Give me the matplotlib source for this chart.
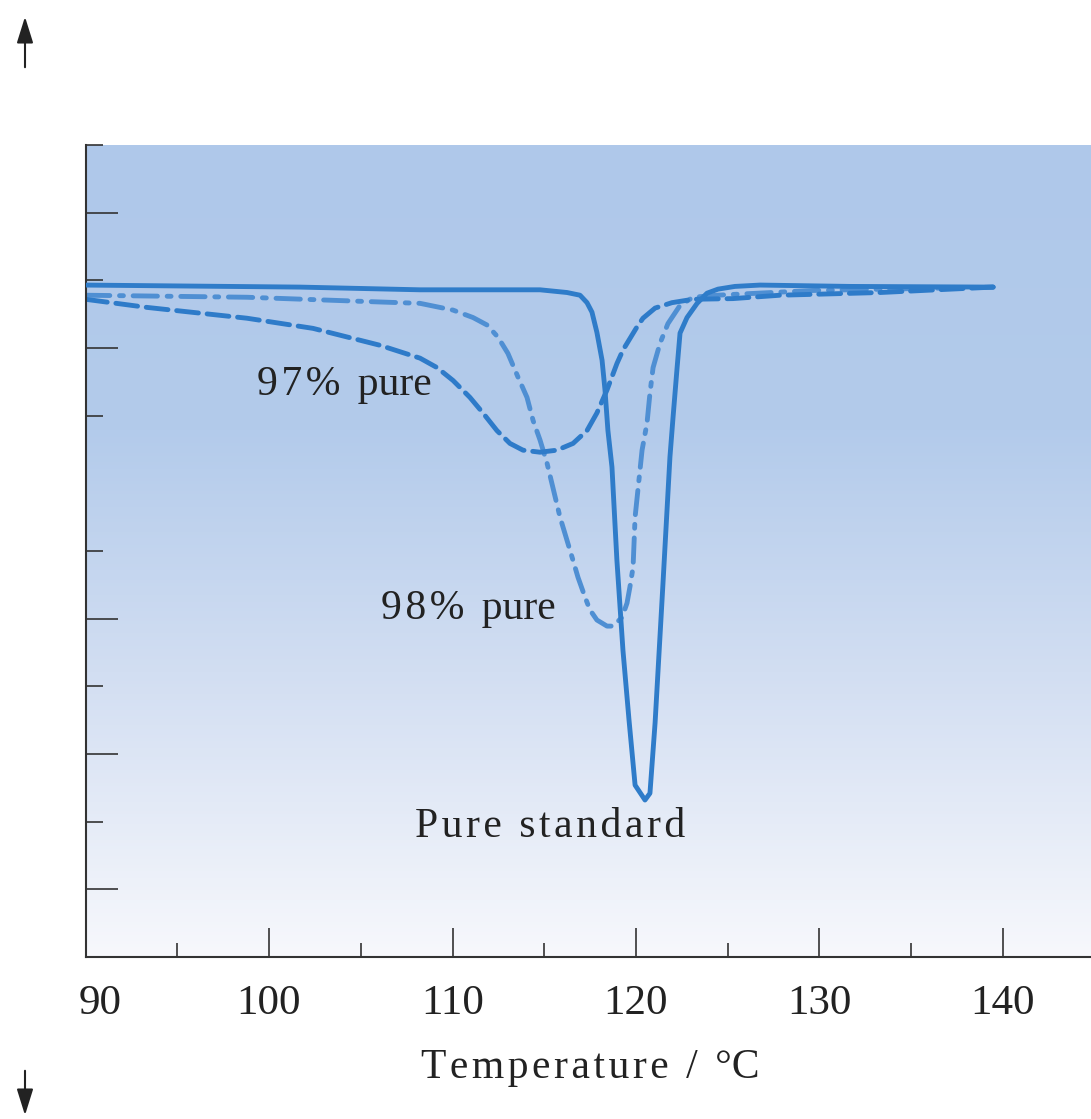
import numpy as np
import matplotlib
matplotlib.use("Agg")
import matplotlib.pyplot as plt
import matplotlib.transforms as mtransforms
from matplotlib.colors import LinearSegmentedColormap
from matplotlib.patches import FancyArrowPatch

# DSC traces, temperature (degC) vs heat flow (arbitrary units, in tick units)
pure_t = [90.0, 101.69, 108.23, 114.77, 116.24, 116.95, 117.33, 117.60, 117.87,
          118.15, 118.31, 118.47, 118.69, 118.96, 119.29, 119.62, 119.95, 120.49,
          120.76, 121.04, 121.47, 121.85, 122.02, 122.24, 122.40, 122.78, 123.33,
          123.87, 124.47, 125.39, 126.76, 131.66, 139.46]
pure_q = [9.93, 9.90, 9.86, 9.86, 9.82, 9.78, 9.67, 9.53, 9.23,
          8.82, 8.38, 7.78, 7.24, 5.86, 4.53, 3.50, 2.54, 2.32,
          2.42, 3.46, 5.52, 7.39, 7.98, 8.71, 9.22, 9.45, 9.66,
          9.81, 9.87, 9.91, 9.93, 9.91, 9.90]

p98_t = [90.0, 98.80, 106.05, 108.23, 110.03, 111.12, 111.88, 112.48, 113.02,
         113.57, 114.06, 114.39, 114.77, 115.15, 115.86, 116.57, 116.84, 117.22,
         117.49, 117.87, 118.42, 118.75, 119.24, 119.51, 119.67, 119.84, 119.95,
         120.33, 120.60, 120.76, 120.93, 121.31, 121.74, 122.40, 123.11, 124.42,
         129.65, 139.46]
p98_q = [9.78, 9.75, 9.68, 9.66, 9.56, 9.45, 9.34, 9.16, 8.92,
         8.57, 8.27, 7.93, 7.64, 7.30, 6.50, 5.86, 5.61, 5.32,
         5.13, 4.98, 4.89, 4.89, 5.02, 5.23, 5.47, 5.76, 6.50,
         7.49, 7.89, 8.33, 8.71, 9.07, 9.36, 9.63, 9.75, 9.78,
         9.85, 9.90]

p97_t = [90.0, 93.35, 98.80, 102.40, 106.05, 108.23, 109.16, 110.03, 110.95,
         111.66, 112.42, 113.13, 113.84, 114.77, 115.69, 116.57, 117.33, 117.87,
         118.42, 118.96, 119.29, 119.67, 120.05, 120.38, 121.04, 121.96, 123.11,
         125.28, 127.85, 133.30, 139.46]
p97_q = [9.72, 9.60, 9.44, 9.29, 9.04, 8.85, 8.71, 8.52, 8.27,
         8.04, 7.78, 7.59, 7.49, 7.46, 7.49, 7.59, 7.78, 8.04,
         8.38, 8.77, 8.97, 9.14, 9.31, 9.44, 9.59, 9.67, 9.72,
         9.73, 9.78, 9.82, 9.90]

x_major = [90, 100, 110, 120, 130, 140]
x_minor = [95, 105, 115, 125, 135]
y_major = [1, 3, 5, 9, 11]
y_minor = [2, 4, 6, 8, 10, 12]

HS = "\u200a"  # hair space, used to mimic the loose letter spacing
GAP = " " + HS * 2


def spaced(word):
    return HS.join(word)


plt.rcParams['font.family'] = ["Liberation Serif", "DejaVu Serif"]

fig = plt.figure(figsize=(10.91, 11.19), dpi=100)
ax = fig.add_axes([85.5 / 1091, 1 - 957 / 1119, 1 - 85.5 / 1091, (957 - 145) / 1119])

xmin, xmax = 90, 90 + (1091 - 85.5) / 18.35
ymin, ymax = 0, 12

# background gradient, blue at top fading to white at the bottom
cmap = LinearSegmentedColormap.from_list(
    "bg", [(0.0, "#f7f8fc"), (0.35, "#d2def2"), (0.65, "#b3cbeb"), (1.0, "#afc8ea")])
grad = np.linspace(0, 1, 256).reshape(-1, 1)
ax.imshow(grad, extent=[xmin, xmax, ymin, ymax], origin="lower", aspect="auto",
          cmap=cmap, zorder=0)

ax.plot(pure_t, pure_q, color="#2f7cc9", lw=3.5, solid_joinstyle="round",
        solid_capstyle="round", zorder=3)
ax.plot(p98_t, p98_q, color="#4f8fd3", lw=3.5, dashes=(5, 2, 0.8, 2),
        dash_capstyle="round", dash_joinstyle="round", zorder=2)
ax.plot(p97_t, p97_q, color="#2e7bc9", lw=3.5, dashes=(4.5, 1.8),
        dash_capstyle="round", dash_joinstyle="round", zorder=2)

txt = dict(fontsize=30, ha="center", va="center", color="#222222")
ax.text(104.1, 8.45, spaced("97%") + GAP + "pure", **txt)
ax.text(110.85, 5.15, spaced("98%") + GAP + "pure", **txt)
ax.text(115.3, 1.92, spaced("Pure") + GAP + spaced("standard"), **txt)

ax.set_xlim(xmin, xmax)
ax.set_ylim(ymin, ymax)
for s in ["top", "right"]:
    ax.spines[s].set_visible(False)
for s in ["left", "bottom"]:
    ax.spines[s].set_color("#333333")
    ax.spines[s].set_linewidth(1.5)

ax.set_xticks(x_major)
ax.set_xticks(x_minor, minor=True)
ax.set_xticklabels([str(v) for v in x_major])
ax.set_yticks(y_major)
ax.set_yticks(y_minor, minor=True)
ax.set_yticklabels([])
ax.tick_params(axis="x", which="major", direction="in", length=21, width=1.2,
               color="#333333", labelsize=31, pad=20, labelcolor="#222222")
ax.tick_params(axis="x", which="minor", direction="in", length=10, width=1.2,
               color="#333333")
ax.tick_params(axis="y", which="major", direction="in", length=23, width=1.2,
               color="#333333")
ax.tick_params(axis="y", which="minor", direction="in", length=12, width=1.2,
               color="#333333")

# the "90" label sits a bit to the right of the axis corner
lab0 = ax.get_xticklabels()[0]
lab0.set_transform(lab0.get_transform() +
                   mtransforms.ScaledTranslation(15 / 100, 0, fig.dpi_scale_trans))

fig.text(590 / 1091, 1 - 1068 / 1119, spaced("Temperature") + GAP + "/" + GAP + "\u00b0C",
         fontsize=30, ha="center", va="center", color="#222222")

# heat flow direction arrows
for y0, y1 in [(70, 14), (1068, 1118)]:
    fig.patches.append(FancyArrowPatch(
        (25 / 1091, 1 - y0 / 1119), (25 / 1091, 1 - y1 / 1119),
        transform=fig.transFigure,
        arrowstyle="-|>,head_length=16,head_width=5", lw=1.5, color="#222222",
        mutation_scale=1))

fig.savefig("out.png", dpi=100)
